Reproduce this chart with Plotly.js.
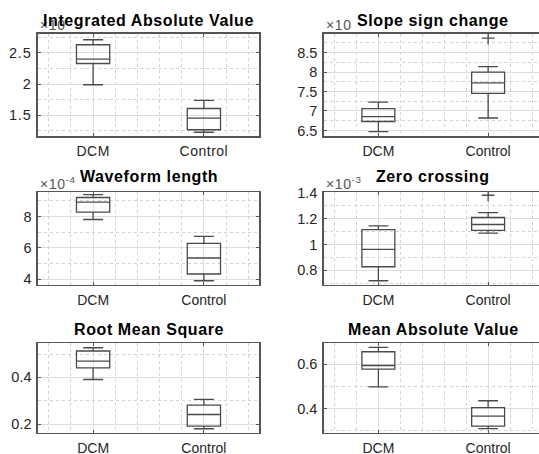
<!DOCTYPE html>
<html>
<head>
<meta charset="utf-8">
<script src="https://cdn.plot.ly/plotly-3.0.1.min.js"></script>
<style>
html, body { margin:0; padding:0; overflow:hidden; background:#fff; }
#chart { width:545px; height:454px; }
.xtick text { letter-spacing:0.5px; }
.ytick text { letter-spacing:0.8px; }
.annotation-text { letter-spacing:0.6px; }
</style>
</head>
<body>
<div id="chart"></div>
<script>
// Categories
const groups = ['DCM', 'Control'];
const groupPos = [1, 2];

// Five-number summaries [lower whisker, Q1, median, Q3, upper whisker] (display units)
const iavDCM = [1.99, 2.33, 2.40, 2.63, 2.71];
const iavControl = [1.23, 1.27, 1.457, 1.61, 1.74];

const sscDCM = [6.47, 6.73, 6.855, 7.06, 7.23];
const sscControl = [6.82, 7.45, 7.72, 8.00, 8.14];
const sscOutliers = [[], [8.87]];

const wlDCM = [7.81, 8.28, 8.92, 9.21, 9.39];
const wlControl = [3.91, 4.34, 5.36, 6.29, 6.74];

const zcDCM = [0.72, 0.828, 0.962, 1.115, 1.143];
const zcControl = [1.087, 1.108, 1.154, 1.208, 1.246];
const zcOutliers = [[], [1.38]];

const rmsDCM = [0.391, 0.441, 0.47, 0.513, 0.527];
const rmsControl = [0.18, 0.191, 0.241, 0.281, 0.306];

const mavDCM = [0.499, 0.579, 0.595, 0.657, 0.677];
const mavControl = [0.31, 0.322, 0.367, 0.405, 0.436];

// Titles, exponent labels, tick labels
const titles = ['Integrated Absolute Value', 'Slope sign change', 'Waveform length',
                'Zero crossing', 'Root Mean Square', 'Mean Absolute Value'];
const exponents = ['', '', '-4', '-3', null, null];
const yTicks1 = [1.5, 2, 2.5];         const yText1 = ['1.5', '2', '2.5'];
const yTicks2 = [6.5, 7, 7.5, 8, 8.5];  const yText2 = ['6.5', '7', '7.5', '8', '8.5'];
const yTicks3 = [4, 6, 8];              const yText3 = ['4', '6', '8'];
const yTicks4 = [0.8, 1, 1.2, 1.4];     const yText4 = ['0.8', '1', '1.2', '1.4'];
const yTicks5 = [0.2, 0.4];             const yText5 = ['0.2', '0.4'];
const yTicks6 = [0.4, 0.6];             const yText6 = ['0.4', '0.6'];

// ---- layout geometry (pixels) ----
const W = 545, H = 454;
const colPx = [[37.7, 259.3], [323.5, 543]];
const rowPx = [[33.5, 136.3], [192, 285], [343.3, 432.7]];
const yRanges = [[1.165, 2.81], [6.35, 8.99], [3.64, 9.56], [0.687, 1.405], [0.163, 0.546], [0.292, 0.695]];
const yMinor = [0.25, 0.25, 1, 0.1, 0.1, 0.1];

const panels = [
  [iavDCM, iavControl, null, yTicks1, yText1],
  [sscDCM, sscControl, sscOutliers, yTicks2, yText2],
  [wlDCM, wlControl, null, yTicks3, yText3],
  [zcDCM, zcControl, zcOutliers, yTicks4, yText4],
  [rmsDCM, rmsControl, null, yTicks5, yText5],
  [mavDCM, mavControl, null, yTicks6, yText6]
];

const traces = [];
const layout = {
  width: W, height: H,
  margin: {l:0, r:0, t:0, b:0},
  paper_bgcolor: '#fff', plot_bgcolor: '#fff',
  showlegend: false,
  boxmode: 'overlay',
  font: {family: 'Liberation Sans, Arial, sans-serif', size: 14, color: '#262626'},
  annotations: []
};

const axisColor = '#555555';
const gridColor = '#dedede';
const minorGrid = '#d2d2d2';
const markColor = '#4a4a4a';

panels.forEach((p, i) => {
  const n = i + 1;
  const sfx = n === 1 ? '' : String(n);
  const col = i % 2, row = Math.floor(i / 2);
  const xd = [colPx[col][0] / W, colPx[col][1] / W];
  const yd = [1 - rowPx[row][1] / H, 1 - rowPx[row][0] / H];
  const d = p[0], c = p[1];

  traces.push({
    type: 'box',
    x: groupPos,
    lowerfence: [d[0], c[0]],
    q1: [d[1], c[1]],
    median: [d[2], c[2]],
    q3: [d[3], c[3]],
    upperfence: [d[4], c[4]],
    width: 0.3,
    whiskerwidth: 0.6,
    boxpoints: false,
    fillcolor: 'rgba(0,0,0,0)',
    line: {color: markColor, width: 1.3},
    hoverinfo: 'skip',
    xaxis: 'x' + sfx, yaxis: 'y' + sfx
  });

  if (p[2]) {
    const ox = [], oy = [];
    p[2].forEach((arr, g) => arr.forEach(v => { ox.push(groupPos[g]); oy.push(v); }));
    traces.push({
      type: 'scatter', mode: 'markers', x: ox, y: oy,
      marker: {symbol: 'cross-thin-open', size: 9, color: markColor, line: {color: markColor, width: 1.3}},
      hoverinfo: 'skip', xaxis: 'x' + sfx, yaxis: 'y' + sfx
    });
  }

  layout['xaxis' + sfx] = {
    domain: xd, range: [0.5, 2.5], anchor: 'y' + sfx,
    tickvals: groupPos, ticktext: groups,
    ticks: 'inside', ticklen: 3, tickcolor: axisColor,
    showline: true, linecolor: axisColor, linewidth: 1.3, mirror: 'ticks',
    showgrid: true, gridcolor: gridColor, gridwidth: 1,
    zeroline: false, fixedrange: true,
    ticklabelstandoff: 2,
    tickfont: {size: 14, color: '#262626'},
    minor: {dtick: 0.2, tick0: 0, showgrid: true, gridcolor: minorGrid, griddash: 'dot', gridwidth: 1, ticks: ''}
  };
  layout['yaxis' + sfx] = {
    domain: yd, range: yRanges[i], anchor: 'x' + sfx,
    tickvals: p[3], ticktext: p[4],
    ticks: 'inside', ticklen: 3, tickcolor: axisColor,
    showline: true, linecolor: axisColor, linewidth: 1.3, mirror: 'ticks',
    showgrid: true, gridcolor: gridColor, gridwidth: 1,
    zeroline: false, fixedrange: true,
    ticklabelstandoff: 2,
    tickfont: {size: 14.5, color: '#262626'},
    minor: {dtick: yMinor[i], tick0: 0, showgrid: true, gridcolor: minorGrid, griddash: 'dot', gridwidth: 1, ticks: ''}
  };

  const titleY = [20, 176, 329][row];
  layout.annotations.push({
    text: '<b>' + titles[i] + '</b>',
    xref: 'paper', yref: 'paper',
    x: (xd[0] + xd[1]) / 2, y: 1 - titleY / H,
    xanchor: 'center', yanchor: 'middle', showarrow: false,
    font: {size: 16, color: '#000'}
  });

  if (exponents[i] !== null) {
    const ey = rowPx[row][0] - 9;
    layout.annotations.push({
      text: exponents[i] ? '×10<sup>' + exponents[i] + '</sup>' : '×10',
      xref: 'paper', yref: 'paper',
      x: (colPx[col][0]) / W, y: 1 - ey / H,
      xanchor: 'left', yanchor: 'middle', showarrow: false,
      font: {size: 14, color: '#555'}
    });
  }
});

// draw exponent labels first so titles sit on top
layout.annotations.sort((a, b) => (a.font.size - b.font.size));

Plotly.newPlot('chart', traces, layout, {staticPlot: true, displayModeBar: false});
</script>
</body>
</html>
